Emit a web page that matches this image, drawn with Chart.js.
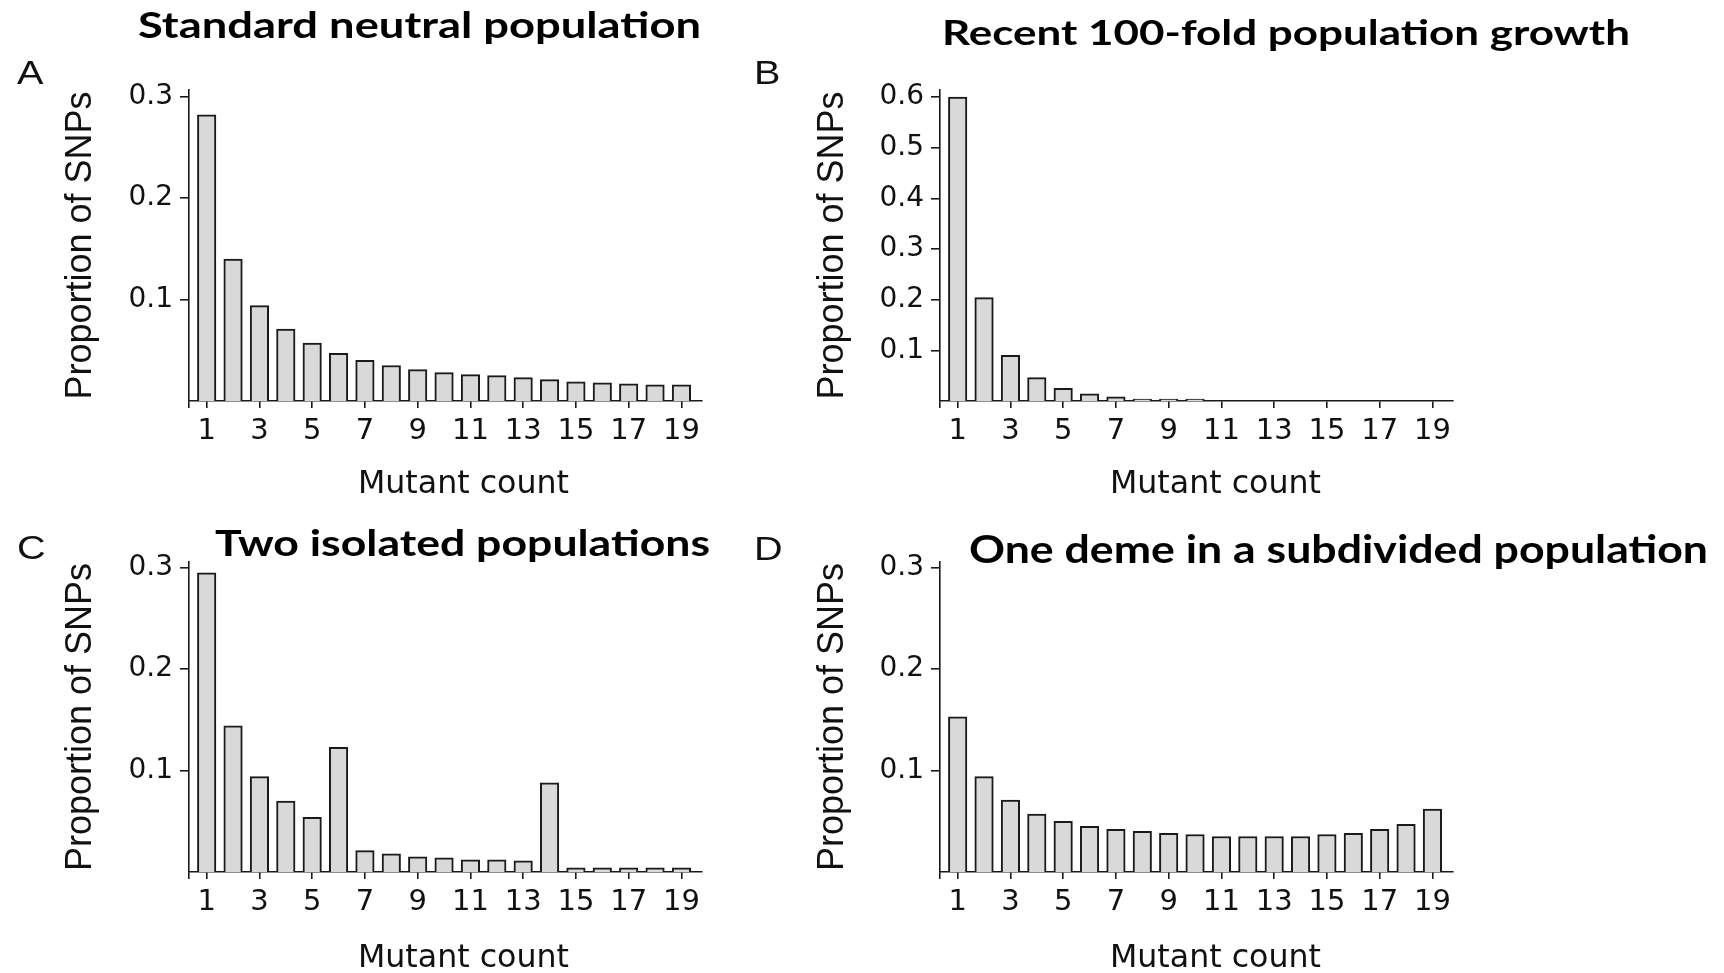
<!DOCTYPE html>
<html>
<head>
<meta charset="utf-8">
<title>Site frequency spectra under four demographic scenarios</title>
<script src="https://cdn.jsdelivr.net/npm/chart.js@4.4.1/dist/chart.umd.min.js"></script>
<style>
  html, body { margin: 0; padding: 0; background: #ffffff; }
  body { width: 1724px; height: 973px; position: relative; overflow: hidden; }
  canvas { position: absolute; }
  .txt { position: absolute; white-space: nowrap; line-height: 1; color: #000; transform-origin: 0 0; }
  .title { font-family: Lato, "Open Sans", sans-serif; font-weight: 700; }
  .letter { font-family: "Liberation Sans", Arial, sans-serif; color: #111; font-size: 33px; }
  .xtitle { font-family: "DejaVu Sans", sans-serif; color: #111; font-size: 31.5px; }
</style>
</head>
<body>
<canvas id="panelA" width="720" height="500" style="left:0px;top:0px"></canvas>
<canvas id="panelB" width="760" height="500" style="left:740px;top:0px"></canvas>
<canvas id="panelC" width="720" height="473" style="left:0px;top:500px"></canvas>
<canvas id="panelD" width="760" height="473" style="left:740px;top:500px"></canvas>

<div class="txt title" data-x="138" data-base="37.5" data-w="563" style="font-size:36px">Standard neutral population</div>
<div class="txt title" data-x="942" data-base="45" data-w="688" style="font-size:35px">Recent 100-fold population growth</div>
<div class="txt title" data-x="215" data-base="556" data-w="495" style="font-size:37px">Two isolated populations</div>
<div class="txt title" data-x="969" data-base="562.5" data-w="739" style="font-size:39px">One deme in a subdivided population</div>

<div class="txt letter" data-x="17" data-base="83.5" data-sx="1.2">A</div>
<div class="txt letter" data-x="754" data-base="83.5" data-sx="1.2">B</div>
<div class="txt letter" data-x="17" data-base="558.5" data-sx="1.2">C</div>
<div class="txt letter" data-x="754" data-base="560" data-sx="1.2">D</div>

<div class="txt xtitle" data-x="358" data-base="492.5" data-w="211">Mutant count</div>
<div class="txt xtitle" data-x="1110" data-base="492.5" data-w="211">Mutant count</div>
<div class="txt xtitle" data-x="358" data-base="966.5" data-w="211">Mutant count</div>
<div class="txt xtitle" data-x="1110" data-base="966.5" data-w="211">Mutant count</div>

<script>
// Number of derived (mutant) copies in a sample of 20 chromosomes
const mutantCounts = [1, 2, 3, 4, 5, 6, 7, 8, 9, 10, 11, 12, 13, 14, 15, 16, 17, 18, 19];
const xTickValues = [1, 3, 5, 7, 9, 11, 13, 15, 17, 19];

// y-axis tick values
const yTicksShort = [0.1, 0.2, 0.3];
const yTicksTall = [0.1, 0.2, 0.3, 0.4, 0.5, 0.6];

// Proportion of SNPs at each mutant count
const standardNeutral = [0.282, 0.140, 0.094, 0.071, 0.057, 0.047, 0.040, 0.035, 0.031, 0.028,
                         0.026, 0.025, 0.023, 0.021, 0.019, 0.018, 0.017, 0.016, 0.016];
const recentGrowth    = [0.600, 0.204, 0.090, 0.046, 0.025, 0.014, 0.008, 0.004, 0.004, 0.004,
                         0, 0, 0, 0, 0, 0, 0, 0, 0];
const twoIsolated     = [0.295, 0.144, 0.094, 0.070, 0.054, 0.123, 0.021, 0.018, 0.015, 0.014,
                         0.012, 0.012, 0.011, 0.088, 0.004, 0.004, 0.004, 0.004, 0.004];
const subdividedDeme  = [0.153, 0.094, 0.071, 0.057, 0.050, 0.045, 0.042, 0.040, 0.038, 0.037,
                         0.035, 0.035, 0.035, 0.035, 0.037, 0.038, 0.042, 0.047, 0.062];

const AXIS = '#1a1a1a';
const INK = '#111111';
const BAR_FILL = '#d9d9d9';
const X_MIN = 0.33, X_MAX = 19.78;

function makePanel(canvasId, values, yMax, yTicks, g) {
  return new Chart(document.getElementById(canvasId), {
    type: 'bar',
    data: {
      datasets: [{
        data: mutantCounts.map((c, i) => ({ x: c, y: values[i] })),
        backgroundColor: BAR_FILL,
        borderColor: AXIS,
        borderWidth: 2,
        barThickness: 18.5
      }]
    },
    options: {
      responsive: false,
      animation: false,
      events: [],
      layout: { padding: { left: 0, top: g.padTop, right: g.padRight, bottom: 0 } },
      plugins: { legend: { display: false }, tooltip: { enabled: false } },
      scales: {
        x: {
          type: 'linear',
          min: X_MIN,
          max: X_MAX,
          offset: false,
          grid: { display: true, offset: false, drawOnChartArea: false, drawTicks: true,
                  tickLength: 7, color: AXIS, lineWidth: 1.6 },
          border: { display: true, color: AXIS, width: 1.6 },
          ticks: {
            autoSkip: false, maxRotation: 0, minRotation: 0, padding: 6, color: INK,
            font: { family: 'DejaVu Sans', size: 29 },
            callback: (v) => (xTickValues.includes(v) ? String(v) : '')
          },
          afterBuildTicks: (s) => { s.ticks = [X_MIN, ...xTickValues].map(v => ({ value: v })); },
          afterFit: (s) => { s.height = g.xAxisHeight; }
        },
        y: {
          type: 'linear',
          min: 0,
          max: yMax,
          grid: { drawOnChartArea: false, drawTicks: true, tickLength: 9, color: AXIS, lineWidth: 1.6 },
          border: { display: true, color: AXIS, width: 1.6 },
          ticks: {
            padding: 7, color: INK,
            font: { family: 'DejaVu Sans', size: 28 },
            callback: (v) => Number(v).toFixed(1)
          },
          afterBuildTicks: (s) => { s.ticks = yTicks.map(v => ({ value: v })); },
          afterFit: (s) => { s.width = g.yAxisWidth; },
          title: {
            display: true,
            text: 'Proportion of SNPs',
            color: INK,
            font: { family: 'Liberation Sans', size: 36 },
            padding: { top: g.yTitlePad, bottom: 0 }
          }
        }
      }
    }
  });
}

const leftGeom  = { yAxisWidth: 189, padRight: 18, yTitlePad: 59 };
const rightGeom = { yAxisWidth: 200, padRight: 47, yTitlePad: 71 };

makePanel('panelA', standardNeutral, 0.3066, yTicksShort, { ...leftGeom,  padTop: 90, xAxisHeight: 99 });
makePanel('panelB', recentGrowth,    0.6138, yTicksTall,  { ...rightGeom, padTop: 90, xAxisHeight: 99 });
makePanel('panelC', twoIsolated,     0.3056, yTicksShort, { ...leftGeom,  padTop: 62, xAxisHeight: 101 });
makePanel('panelD', subdividedDeme,  0.3056, yTicksShort, { ...rightGeom, padTop: 62, xAxisHeight: 101 });

// Place each text block by its left edge and baseline, stretching it to its set width
function placeText(el) {
  const x = +el.dataset.x;
  const base = +el.dataset.base;
  el.style.left = '0px';
  el.style.top = '0px';
  el.style.transform = 'none';
  const probe = document.createElement('span');
  probe.style.cssText = 'display:inline-block;width:0;height:0;vertical-align:baseline;';
  el.appendChild(probe);
  const box = el.getBoundingClientRect();
  const off = probe.getBoundingClientRect().top - box.top;
  el.removeChild(probe);
  const sx = el.dataset.w ? (+el.dataset.w / box.width) : (el.dataset.sx ? +el.dataset.sx : 1);
  el.style.left = x + 'px';
  el.style.top = (base - off) + 'px';
  el.style.transform = 'scaleX(' + sx + ')';
}
document.querySelectorAll('.txt').forEach(placeText);
</script>
</body>
</html>
